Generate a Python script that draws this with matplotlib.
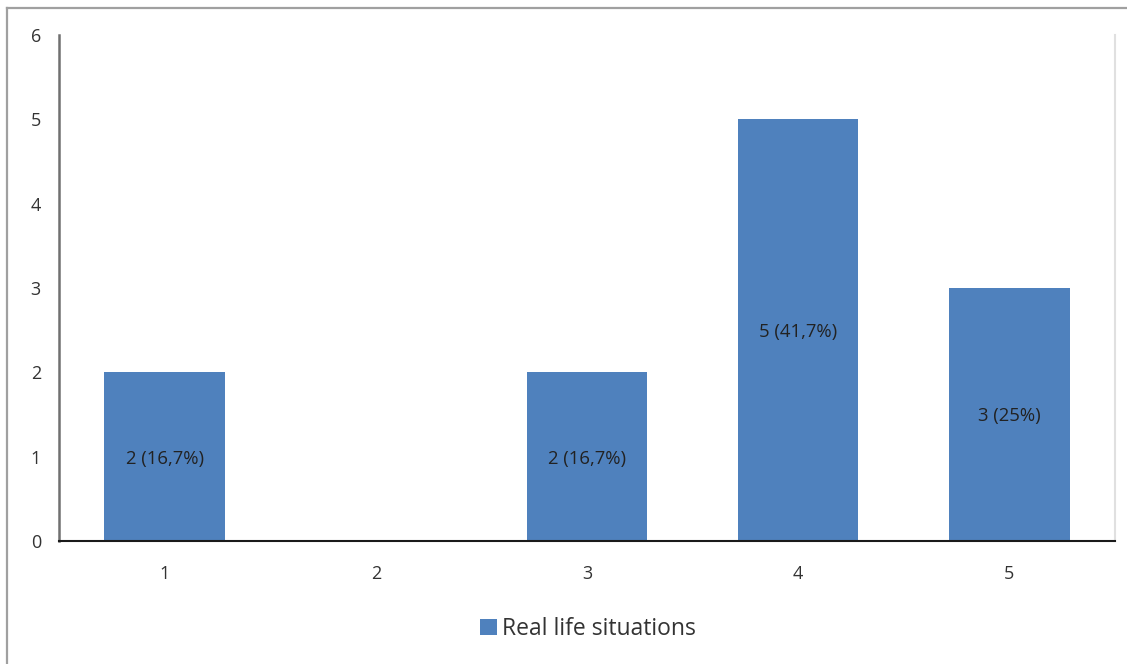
import matplotlib.pyplot as plt
from matplotlib.lines import Line2D

plt.rcParams['font.family'] = ['Open Sans', 'DejaVu Sans']

categories = ['1', '2', '3', '4', '5']
counts = [2, 0, 2, 5, 3]
percents = ['16,7%', '', '16,7%', '41,7%', '25%']
series_name = 'Real life situations'

W, H = 1127, 664
fig = plt.figure(figsize=(W / 100, H / 100), dpi=100)
ax = fig.add_axes([59 / W, 1 - 541 / H, (1115 - 59) / W, (541 - 35) / H])

x = range(len(categories))
bars = ax.bar(x, counts, width=0.57, color='#4F81BD', label=series_name, zorder=2)

# value labels in the middle of each non-empty bar
for i, (c, p) in enumerate(zip(counts, percents)):
    if c > 0:
        ax.text(i, c / 2, f'{c} ({p})', ha='center', va='center_baseline',
                fontsize=13.3, color='#222222', zorder=3)

ax.set_xlim(-0.5, len(categories) - 0.5)
ax.set_ylim(0, 6)
ax.set_yticks(range(0, 7))
ax.set_xticks(list(x))
ax.set_xticklabels(categories)
ax.tick_params(length=0, labelsize=13, labelcolor='#333333')
ax.tick_params(axis='y', pad=13)
ax.tick_params(axis='x', pad=17)

ax.spines['top'].set_visible(False)
ax.spines['right'].set_color('#e0e0e0')
ax.spines['right'].set_linewidth(1.5)
ax.spines['left'].set_color('#707070')
ax.spines['left'].set_linewidth(1.8)
ax.spines['bottom'].set_color('#1a1a1a')
ax.spines['bottom'].set_linewidth(1.5)

leg = fig.legend(loc='center', bbox_to_anchor=(588 / W, 1 - 629 / H), frameon=False,
                 fontsize=16.5, handlelength=0.75, handleheight=0.75, handletextpad=0.2)
for t in leg.get_texts():
    t.set_color('#333333')

# outer frame of the chart area
fig.add_artist(Line2D([7 / W, 1], [1 - 8 / H, 1 - 8 / H], color='#a0a0a0', lw=1.6))
fig.add_artist(Line2D([7 / W, 7 / W], [0, 1 - 8 / H], color='#a0a0a0', lw=1.6))

fig.savefig('out.png', dpi=100)
